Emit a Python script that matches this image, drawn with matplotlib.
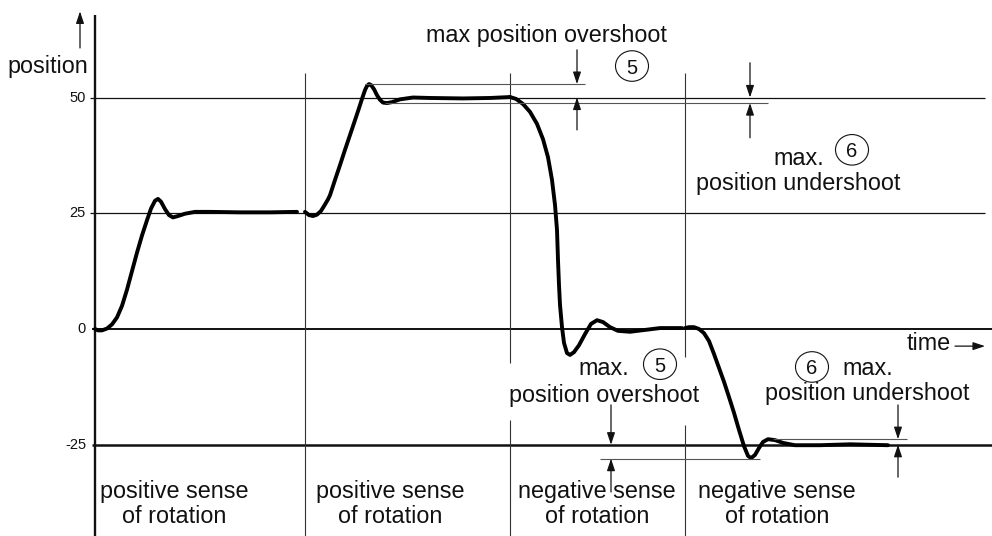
import numpy as np
import matplotlib.pyplot as plt
from matplotlib.patches import Ellipse

plt.rcParams['font.family'] = ['Liberation Sans', 'DejaVu Sans']

# position response for the four moves (time, position)
t_move1 = [0, 3, 7, 12, 17, 22, 27, 32, 37, 42, 47, 52, 56, 60, 63, 66, 70, 74, 78, 83, 90, 100, 115, 145, 175, 202]
p_move1 = [0, -0.3, -0.3, 0.1, 1.0, 2.5, 5.0, 8.5, 12.5, 16.5, 20.2, 23.5, 26.0, 27.7, 28.1, 27.5, 25.9, 24.6, 24.1, 24.4, 24.9, 25.3, 25.3, 25.2, 25.2, 25.3]

t_move2 = [210, 214, 218, 222, 226, 230, 233, 235, 240, 245, 250, 255, 260, 264, 267, 270, 272, 274, 276, 279, 282, 285, 288, 292, 297, 305, 318, 335, 368, 395, 415]
p_move2 = [25.3, 24.6, 24.4, 24.7, 25.5, 26.9, 28.0, 28.9, 32.2, 35.4, 38.7, 41.9, 45.1, 47.7, 49.7, 51.6, 52.5, 52.9, 52.7, 51.8, 50.5, 49.5, 48.9, 48.8, 49.0, 49.6, 50.0, 49.9, 49.8, 49.9, 50.1]

t_move3 = [415, 421, 428, 435, 442, 448, 453, 457, 460, 462, 463, 464, 465, 467, 469, 472, 475, 479, 484, 490, 496, 502, 508, 515, 523, 535, 550, 565, 587]
p_move3 = [50.1, 49.7, 48.6, 46.9, 44.3, 41.0, 37.1, 32.2, 26.8, 21.4, 14.9, 9.5, 5.2, 0.4, -3.0, -5.2, -5.6, -5.0, -3.5, -1.1, 1.1, 1.9, 1.5, 0.4, -0.4, -0.6, -0.2, 0.2, 0.2]

t_move4 = [590, 594, 599, 604, 609, 614, 619, 624, 629, 634, 639, 644, 649, 653, 656, 660, 664, 668, 673, 680, 688, 700, 725, 755, 793]
p_move4 = [0.2, 0.4, 0.4, 0.0, -0.9, -2.6, -5.4, -8.4, -11.4, -14.7, -18.1, -21.8, -25.3, -27.4, -27.9, -27.2, -25.7, -24.4, -23.8, -24.0, -24.6, -25.1, -25.1, -24.9, -25.1]

levels = [50, 25, 0, -25]
level_labels = ['50', '25', '0', '-25']
section_edges = [210, 415, 590]
section_names = [('positive sense', 'of rotation'), ('positive sense', 'of rotation'),
                 ('negative sense', 'of rotation'), ('negative sense', 'of rotation')]
section_centers = [79, 295, 502, 682]

# overshoot / undershoot extremes
over_pos, under_pos = 52.9, 48.8
over_neg, under_neg = -28.0, -23.8

fig = plt.figure(figsize=(9.92, 5.36), dpi=100)
ax = fig.add_axes([0, 0, 1, 1])
ax.set_xlim(-95, 897)
ax.set_ylim(-44.71, 71.06)
ax.axis('off')

FS = 16.8
ink = '#111111'

# reference levels
ax.hlines([50, 25], -5, 890, color=ink, lw=0.9)
ax.hlines(0, -3, 897, color=ink, lw=1.4)
ax.hlines(-25, -3, 897, color=ink, lw=1.8)
for lv, lab in zip(levels, level_labels):
    ax.text(-9, lv, lab, ha='right', va='center', fontsize=10.5, color=ink)

# position axis
ax.vlines(0, -44.71, 67.8, color=ink, lw=1.7)
ax.annotate('', xy=(-15, 68.6), xytext=(-15, 60.7),
            arrowprops=dict(arrowstyle='-|>,head_length=0.6,head_width=0.2',
                            mutation_scale=12, lw=0.9, color=ink,
                            shrinkA=0, shrinkB=0))
ax.text(-7, 55.3, 'position', ha='right', va='baseline', fontsize=FS, color=ink)

# section separators (broken where the annotations cross them)
ax.vlines(section_edges[0], -44.71, 55.3, color='#333333', lw=0.8)
ax.vlines([section_edges[1]] * 2, [-44.71, -7.3], [-19.7, 55.3], color='#333333', lw=0.8)
ax.vlines([section_edges[2]] * 2, [-44.71, -6.0], [-20.7, 55.3], color='#333333', lw=0.8)

for cx, (l1, l2) in zip(section_centers, section_names):
    ax.text(cx, -36.5, l1, ha='center', va='baseline', fontsize=FS, color=ink)
    ax.text(cx, -41.9, l2, ha='center', va='baseline', fontsize=FS, color=ink)

# response curves
for t, p in [(t_move1, p_move1), (t_move2, p_move2), (t_move3, p_move3), (t_move4, p_move4)]:
    ax.plot(t, p, color='black', lw=2.8, solid_capstyle='round', solid_joinstyle='round')

# extreme value guide lines
ax.hlines(over_pos, 270, 490, color='#555555', lw=0.8)
ax.hlines(under_pos, 290, 673, color='#555555', lw=0.8)
ax.hlines(over_neg, 505, 665, color='#555555', lw=0.8)
ax.hlines(under_neg, 678, 812, color='#555555', lw=0.8)


def dim_arrows(x, top_from, top_to, bot_from, bot_to):
    style = dict(arrowstyle='-|>,head_length=0.6,head_width=0.2', mutation_scale=12,
                 lw=0.9, color=ink, shrinkA=0, shrinkB=0)
    ax.annotate('', xy=(x, top_to), xytext=(x, top_from), arrowprops=style)
    ax.annotate('', xy=(x, bot_to), xytext=(x, bot_from), arrowprops=style)


def circled(x, y, s):
    ax.add_patch(Ellipse((x, y), 33, 6.6, fill=False, ec=ink, lw=0.8))
    ax.text(x, y, s, ha='center', va='center_baseline', fontsize=14.5, color=ink)


dim_arrows(482, 60.3, over_pos, 43.0, 50)
dim_arrows(655, 57.5, 50, 41.3, under_pos)
dim_arrows(516, -16.4, -25, -35.2, over_neg)
dim_arrows(803, -16.4, under_neg, -32.0, -25)

ax.text(451, 62.0, 'max position overshoot', ha='center', va='baseline', fontsize=FS, color=ink)
circled(537, 56.8, '5')

ax.text(678, 35.4, 'max.', ha='left', va='baseline', fontsize=FS, color=ink)
circled(757, 38.7, '6')
ax.text(703, 30.0, 'position undershoot', ha='center', va='baseline', fontsize=FS, color=ink)

ax.text(483, -9.9, 'max.', ha='left', va='baseline', fontsize=FS, color=ink)
circled(565, -7.6, '5')
ax.text(509.5, -15.8, 'position overshoot', ha='center', va='baseline', fontsize=FS, color=ink)

circled(717, -8.2, '6')
ax.text(747, -9.9, 'max.', ha='left', va='baseline', fontsize=FS, color=ink)
ax.text(772, -15.3, 'position undershoot', ha='center', va='baseline', fontsize=FS, color=ink)

# time axis label
ax.text(812, -4.5, 'time', ha='left', va='baseline', fontsize=FS, color=ink)
ax.annotate('', xy=(890, -3.7), xytext=(860, -3.7),
            arrowprops=dict(arrowstyle='-|>,head_length=0.6,head_width=0.2',
                            mutation_scale=12, lw=0.9, color=ink,
                            shrinkA=0, shrinkB=0))

fig.savefig('out.png', dpi=100, facecolor='white')
